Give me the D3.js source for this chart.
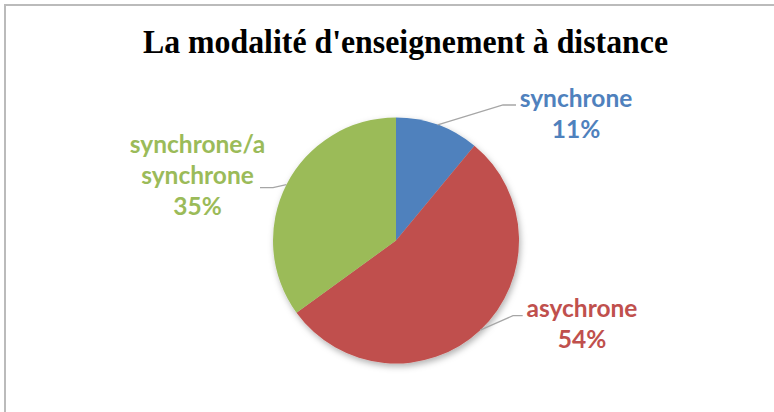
<!DOCTYPE html>
<html><head><meta charset="utf-8">
<script src="https://cdn.jsdelivr.net/npm/d3@7"></script>
<style>html,body{margin:0;padding:0;background:#fff;}svg{display:block;}</style>
</head><body>
<script>
const categories = ["synchrone", "asychrone", "synchrone/asynchrone"];
const values = [11, 54, 35];
const labelNames = [["synchrone"], ["asychrone"], ["synchrone/a", "synchrone"]];
const colors = ["#4F81BD", "#C0504D", "#9BBB59"];
const title = "La modalité d'enseignement à distance";

const W = 774, H = 412;
const cx = 396, cy = 240.5, R = 123;

const svg = d3.select("body").append("svg").attr("width", W).attr("height", H);

const defs = svg.append("defs");
const f = defs.append("filter").attr("id", "shadow").attr("x", "-20%").attr("y", "-20%").attr("width", "140%").attr("height", "140%");
f.append("feDropShadow").attr("dx", 1.5).attr("dy", 3).attr("stdDeviation", 3).attr("flood-color", "#000").attr("flood-opacity", 0.3);

// chart border (only top and left visible)
svg.append("path").attr("d", `M5,${H+5} L5,5 L${W+5},5`).attr("fill", "none").attr("stroke", "#BBBBBB").attr("stroke-width", 2);

svg.append("text").attr("x", 405.5).attr("y", 52.5).attr("text-anchor", "middle")
  .attr("font-family", "'Liberation Serif','Times New Roman',serif").attr("font-weight", "bold")
  .attr("font-size", 33).attr("textLength", 525).attr("lengthAdjust", "spacingAndGlyphs")
  .attr("fill", "#000").text(title);

const pie = d3.pie().sort(null).value(d => d);
const arcs = pie(values);
const arc = d3.arc().innerRadius(0).outerRadius(R);

const g = svg.append("g").attr("transform", `translate(${cx},${cy})`);
g.append("g").attr("filter", "url(#shadow)").selectAll("path").data(arcs).join("path")
  .attr("d", arc).attr("fill", (d, i) => colors[i]);

// label layout (elbow, end of leader, text centre and first baseline)
const layout = [
  {elbow: [503, 105], end: [516, 105], tx: 576, ty: 106.7},
  {elbow: [513, 315.7], end: [522.7, 315.7], tx: 582, ty: 316.7},
  {elbow: [273, 187.7], end: [260, 187.7], tx: 197.5, ty: 153.3}
];
const lineH = 31;
const fmt = d3.format(".0%");
const total = d3.sum(values);

arcs.forEach((a, i) => {
  const mid = (a.startAngle + a.endAngle) / 2;
  const sx = cx + R * Math.sin(mid), sy = cy - R * Math.cos(mid);
  const L = layout[i];
  svg.append("polyline")
    .attr("points", [[sx, sy], L.elbow, L.end].map(p => p.join(",")).join(" "))
    .attr("fill", "none").attr("stroke", "#A6A6A6").attr("stroke-width", 1.3);
  const lines = labelNames[i].concat([fmt(values[i] / total)]);
  const t = svg.append("text").attr("text-anchor", "middle")
    .attr("font-family", "Lato,'Open Sans',sans-serif").attr("font-weight", "bold")
    .attr("font-size", 24.5).attr("fill", colors[i]);
  lines.forEach((s, j) => {
    t.append("tspan").attr("x", L.tx).attr("y", L.ty + j * lineH).text(s);
  });
});
</script>
</body></html>
